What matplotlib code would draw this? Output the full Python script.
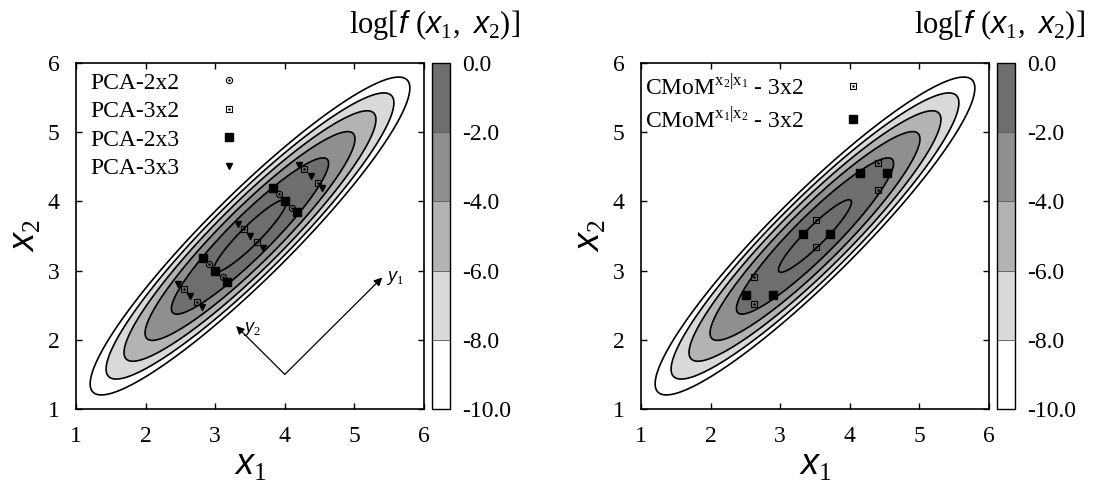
import matplotlib.pyplot as plt
import numpy as np
from matplotlib.colors import ListedColormap, BoundaryNorm
from matplotlib.cm import ScalarMappable
from matplotlib.legend_handler import HandlerTuple

plt.rcParams['font.family'] = ['Liberation Serif', 'DejaVu Serif']
plt.rcParams['mathtext.fontset'] = 'custom'
plt.rcParams['mathtext.rm'] = 'Liberation Serif'
plt.rcParams['mathtext.it'] = 'Liberation Sans:italic'
plt.rcParams['axes.unicode_minus'] = False

# bivariate normal shown in both panels
mean = [3.5, 3.5]
sigma = 0.5
rho = 0.93

levels = [-10, -8, -6, -4, -2, 0]
cbar_labels = ['-10.0', '-8.0', '-6.0', '-4.0', '-2.0', '0.0']
band_colors = ['#ffffff', '#d9d9d9', '#b3b3b3', '#8f8f8f', '#6e6e6e']
axis_ticks = [1, 2, 3, 4, 5, 6]

# left panel: PCA quadrature nodes
pca_2x2_x = [3.91, 4.10, 2.91, 3.11]
pca_2x2_y = [4.10, 3.91, 3.10, 2.91]
pca_3x2_x = [4.28, 4.47, 3.41, 3.60, 2.55, 2.74]
pca_3x2_y = [4.47, 4.27, 3.60, 3.41, 2.74, 2.54]
pca_2x3_x = [3.83, 4.01, 4.18, 2.82, 3.00, 3.17]
pca_2x3_y = [4.19, 4.01, 3.84, 3.18, 3.00, 2.83]
pca_3x3_x = [4.20, 4.37, 4.54, 3.33, 3.50, 3.68, 2.47, 2.64, 2.81]
pca_3x3_y = [4.53, 4.36, 4.20, 3.68, 3.50, 3.32, 2.80, 2.64, 2.47]

# right panel: conditional moment nodes
cmom_21_x = [2.63, 2.63, 3.52, 3.52, 4.40, 4.40]
cmom_21_y = [2.52, 2.91, 3.34, 3.73, 4.17, 4.55]
cmom_12_x = [2.51, 2.90, 3.33, 3.72, 4.14, 4.53]
cmom_12_y = [2.65, 2.65, 3.53, 3.53, 4.41, 4.41]

# log density on a grid
g = np.linspace(1, 6, 500)
X1, X2 = np.meshgrid(g, g)
cov = sigma**2 * np.array([[1.0, rho], [rho, 1.0]])
inv = np.linalg.inv(cov)
d1, d2 = X1 - mean[0], X2 - mean[1]
q = inv[0, 0] * d1**2 + 2 * inv[0, 1] * d1 * d2 + inv[1, 1] * d2**2
logf = -np.log(2 * np.pi * np.sqrt(np.linalg.det(cov))) - 0.5 * q

cmap = ListedColormap(band_colors)
cmap.set_under(band_colors[0])
cmap.set_over(band_colors[-1])

W, H = 1093, 495
fig = plt.figure(figsize=(W / 100, H / 100), dpi=100)


def box(x0, y0, w, h):
    return [x0 / W, 1 - (y0 + h) / H, w / W, h / H]


def density_panel(x0):
    norm = BoundaryNorm(levels, cmap.N)
    ax = fig.add_axes(box(x0, 63, 348, 346))
    cax = fig.add_axes(box(x0 + 356, 63, 18, 346))
    ax.contourf(X1, X2, logf, levels=levels, cmap=cmap, norm=norm, extend='both')
    ax.contour(X1, X2, logf, levels=levels, colors='k', linewidths=1.2,
               linestyles='solid')
    ax.set_xlim(1, 6)
    ax.set_ylim(1, 6)
    ax.set_xticks(axis_ticks)
    ax.set_yticks(axis_ticks)
    ax.tick_params(direction='in', top=True, right=True, length=4,
                   width=1, labelsize=17, pad=12)
    for s in ax.spines.values():
        s.set_linewidth(1.2)
    ax.set_xlabel(r'$\mathit{x_1}$', fontsize=26, labelpad=2)
    ax.set_ylabel(r'$\mathit{x_2}$', fontsize=26, labelpad=4)

    cb = fig.colorbar(ScalarMappable(norm=BoundaryNorm(levels, cmap.N), cmap=cmap),
                      cax=cax, drawedges=True)
    cb.set_ticks(levels, labels=cbar_labels)
    cb.ax.tick_params(length=0, labelsize=17, pad=9)
    cb.outline.set_linewidth(1.0)
    cb.dividers.set_color('#555555')
    cb.dividers.set_linewidth(0.6)

    fig.text((x0 + 444) / W, 1 - 33 / H,
             r'$\mathrm{log[}\mathit{f\,\,(x_1,\ x_2)}\mathrm{]}$',
             ha='right', va='baseline', fontsize=22)
    return ax


def open_dot(ax, x, y, marker, ms):
    h1, = ax.plot(x, y, ls='none', marker=marker, ms=ms, mfc='none',
                  mec='k', mew=0.8)
    h2, = ax.plot(x, y, ls='none', marker='.', ms=1.6, color='k')
    return (h1, h2)


def key(ax, handles, labels, dx, dy):
    ax.legend(handles, labels, handler_map={tuple: HandlerTuple(ndivide=1)},
              loc='upper left', bbox_to_anchor=(dx / 348, 1 - dy / 346),
              frameon=False, markerfirst=False, fontsize=17,
              handlelength=1.0, handletextpad=1.6, borderpad=0,
              borderaxespad=0, labelspacing=0.3)


# left panel
ax1 = density_panel(76)
h_22 = open_dot(ax1, pca_2x2_x, pca_2x2_y, 'o', 4.5)
h_32 = open_dot(ax1, pca_3x2_x, pca_3x2_y, 's', 4.3)
h_23, = ax1.plot(pca_2x3_x, pca_2x3_y, ls='none', marker='s', ms=6, color='k')
h_33, = ax1.plot(pca_3x3_x, pca_3x3_y, ls='none', marker='v', ms=5, color='k')
key(ax1, [h_22, h_32, h_23, h_33],
    ['PCA-2x2', 'PCA-3x2', 'PCA-2x3', 'PCA-3x3'], 14, 9)

arrow = dict(arrowstyle='-|>', color='k', lw=0.9, mutation_scale=12,
             shrinkA=0, shrinkB=0)
ax1.annotate('', xy=(5.4, 2.9), xytext=(4.0, 1.5), arrowprops=arrow)
ax1.annotate('', xy=(3.3, 2.2), xytext=(4.0, 1.5), arrowprops=arrow)
ax1.text(5.45, 2.9, r'$\mathit{y_1}$', fontsize=13, ha='left', va='center')
ax1.text(3.4, 2.15, r'$\mathit{y_2}$', fontsize=13, ha='left', va='center')

# right panel
ax2 = density_panel(641)
h_21 = open_dot(ax2, cmom_21_x, cmom_21_y, 's', 4.3)
h_12, = ax2.plot(cmom_12_x, cmom_12_y, ls='none', marker='s', ms=6, color='k')
key(ax2, [h_21, h_12],
    [r'CMoM$^{\mathrm{x_2|x_1}}$ - 3x2', r'CMoM$^{\mathrm{x_1|x_2}}$ - 3x2'], 4, 10)

fig.savefig('out.png', dpi=100)
